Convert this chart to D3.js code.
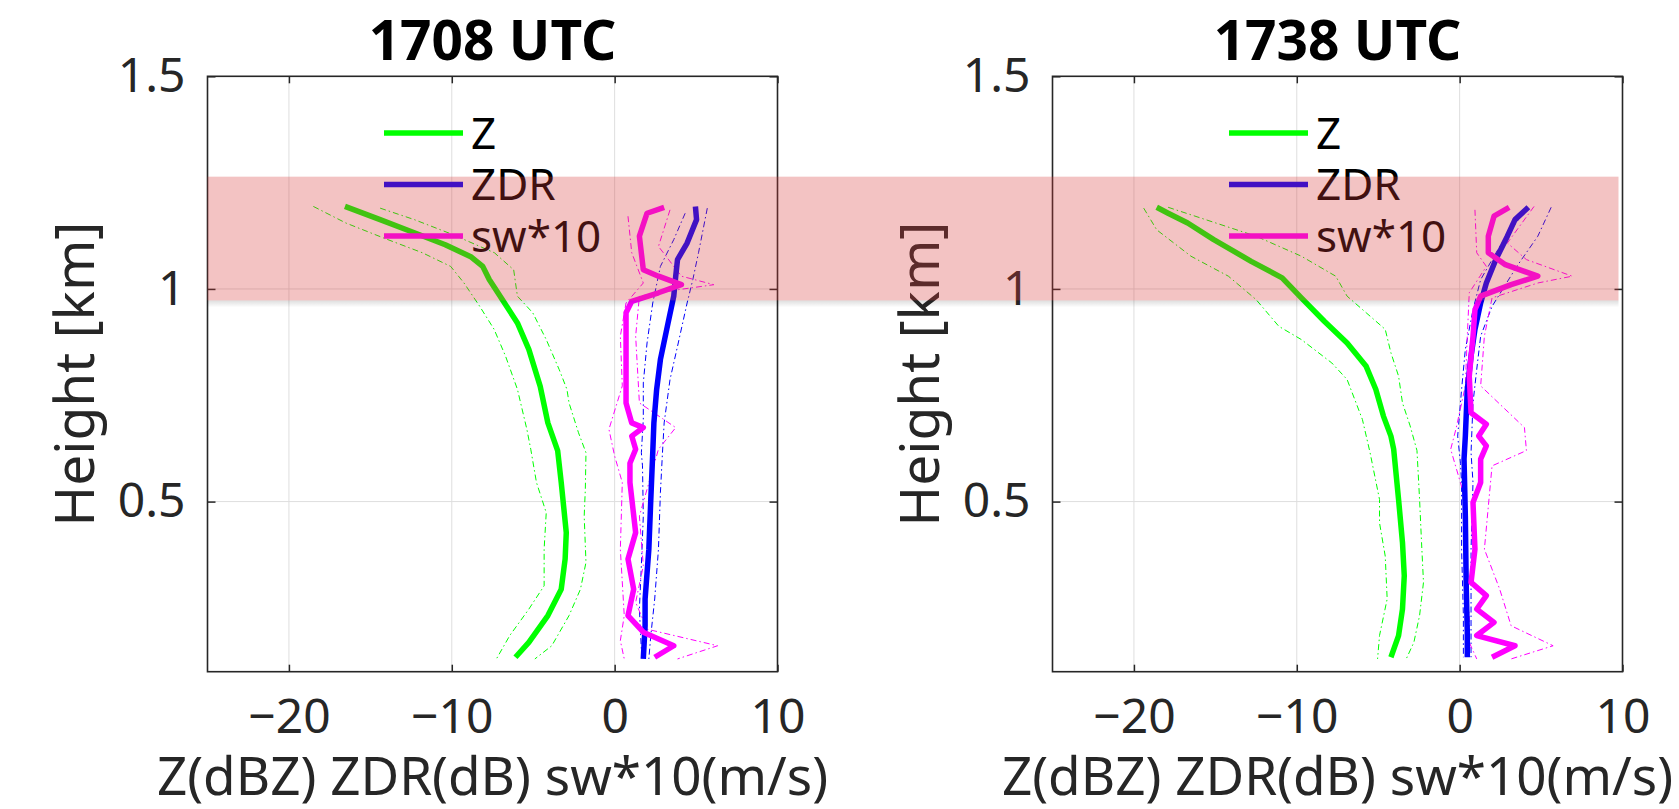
<!DOCTYPE html>
<html><head><meta charset="utf-8">
<script src="https://cdn.jsdelivr.net/npm/d3@7"></script>
<style>body{margin:0;background:#fff}svg{display:block}text{font-family:"Noto Sans",sans-serif}</style>
</head><body>
<svg id="c" width="1679" height="809"></svg>
<script>
// ---------- data: [value, height km] ----------
const titles = ["1708 UTC", "1738 UTC"];
const xTicks = [-20, -10, 0, 10];
const yTicks = [0.5, 1, 1.5];
const legendLabels = ["Z", "ZDR", "sw*10"];
const bandKm = [0.973, 1.264];

const z1708 = [[-16.56,1.194],[-14.4,1.163],[-12.5,1.135],[-10.4,1.104],[-8.8,1.075],[-8.1,1.053],[-7.7,1.022],[-6.9,0.975],[-5.97,0.92],[-5.27,0.858],[-4.57,0.771],[-4.1,0.685],[-3.5,0.62],[-3.28,0.545],[-2.97,0.427],[-3.04,0.365],[-3.28,0.294],[-4.1,0.232],[-5.27,0.169],[-6.09,0.134]];
const z1708Lo = [[-18.5,1.194],[-16.5,1.155],[-14.2,1.12],[-11.8,1.085],[-10.07,1.053],[-9.25,1.014],[-8.3,0.96],[-7.4,0.905],[-6.7,0.842],[-5.97,0.764],[-5.39,0.67],[-5.15,0.623],[-4.8,0.545],[-4.2,0.474],[-4.33,0.388],[-4.33,0.302],[-5.27,0.247],[-6.44,0.185],[-7.26,0.13]];
const z1708Hi = [[-14.4,1.19],[-12.3,1.163],[-9.95,1.128],[-7.38,1.085],[-6.2,1.045],[-5.97,0.983],[-5.03,0.944],[-4.2,0.881],[-3.4,0.81],[-2.93,0.764],[-2.8,0.732],[-2.22,0.662],[-1.76,0.615],[-1.8,0.529],[-1.87,0.466],[-1.76,0.357],[-2.1,0.294],[-2.8,0.232],[-3.86,0.161],[-4.9,0.13]];
const zdr1708 = [[4.96,1.194],[5.03,1.163],[4.45,1.108],[3.86,1.069],[3.75,1.03],[3.63,0.983],[3.28,0.92],[2.81,0.834],[2.58,0.764],[2.41,0.685],[2.34,0.615],[2.22,0.505],[2.1,0.388],[1.87,0.271],[1.87,0.208],[1.76,0.13]];
const zdr1708Lo = [[4.33,1.178],[3.63,1.116],[2.81,1.053],[2.34,0.967],[1.99,0.873],[1.76,0.779],[1.76,0.693],[1.64,0.615],[1.71,0.584],[1.76,0.466],[1.64,0.349],[1.52,0.247],[1.64,0.153],[1.76,0.13]];
const zdr1708Hi = [[5.69,1.19],[5.15,1.085],[4.8,1.022],[4.45,0.967],[3.86,0.865],[3.4,0.787],[3.04,0.685],[2.93,0.61],[2.81,0.521],[2.69,0.388],[2.46,0.271],[2.22,0.185],[2.1,0.13]];
const sw1708 = [[3.04,1.192],[1.99,1.178],[1.52,1.124],[1.76,1.045],[2.69,1.03],[4.1,1.01],[2.69,0.991],[1.05,0.971],[0.7,0.944],[0.7,0.85],[0.7,0.732],[1.05,0.685],[1.76,0.674],[1.05,0.654],[1.29,0.623],[0.94,0.59],[0.94,0.545],[1.29,0.427],[0.82,0.365],[1.17,0.294],[0.82,0.232],[1.76,0.193],[3.63,0.161],[2.46,0.134]];
const sw1708Lo = [[0.82,1.171],[1.05,1.085],[1.76,1.014],[0.7,0.967],[0.35,0.889],[0.47,0.772],[-0.35,0.67],[0,0.607],[0.47,0.545],[0.35,0.388],[0.59,0.232],[0.35,0.173],[0.59,0.13]];
const sw1708Hi = [[3.4,1.186],[2.69,1.1],[4.1,1.03],[6.09,1.01],[3.86,0.998],[1.52,0.983],[1.29,0.889],[1.52,0.732],[3.75,0.674],[2.69,0.623],[1.52,0.466],[1.76,0.349],[1.29,0.263],[1.99,0.2],[6.32,0.161],[3.86,0.13]];

const z1738 = [[-18.6,1.192],[-17.9,1.178],[-16.7,1.155],[-15.1,1.116],[-12.8,1.065],[-10.9,1.026],[-9.72,0.979],[-8.31,0.924],[-6.91,0.873],[-5.74,0.818],[-5.15,0.764],[-4.68,0.701],[-4.22,0.654],[-4.05,0.623],[-3.75,0.505],[-3.51,0.404],[-3.4,0.326],[-3.51,0.247],[-3.75,0.185],[-4.22,0.134]];
const z1738Lo = [[-19.4,1.19],[-18.6,1.139],[-16.5,1.077],[-14.2,1.03],[-12.5,0.975],[-11.1,0.912],[-9.72,0.881],[-7.85,0.826],[-6.91,0.787],[-5.97,0.693],[-5.5,0.615],[-4.92,0.505],[-4.92,0.45],[-4.57,0.372],[-4.45,0.271],[-4.92,0.185],[-5.04,0.13]];
const z1738Hi = [[-17.9,1.192],[-15.6,1.163],[-12.5,1.124],[-9.72,1.077],[-7.61,1.03],[-6.91,0.983],[-5.74,0.944],[-4.57,0.905],[-4.22,0.85],[-3.75,0.795],[-3.51,0.732],[-3.04,0.678],[-2.62,0.62],[-2.46,0.505],[-2.34,0.404],[-2.22,0.31],[-2.46,0.232],[-2.81,0.169],[-3.28,0.13]];
const zdr1738 = [[4.22,1.192],[3.4,1.163],[2.93,1.124],[2.22,1.069],[1.64,1.014],[1.29,0.967],[0.94,0.905],[0.7,0.842],[0.47,0.764],[0.35,0.654],[0.27,0.6],[0.35,0.466],[0.4,0.31],[0.47,0.193],[0.47,0.134]];
const zdr1738Lo = [[3.75,1.171],[2.46,1.1],[1.29,1.022],[0.82,0.951],[0.35,0.858],[0.12,0.764],[-0.12,0.654],[0.05,0.59],[0.12,0.545],[0.12,0.388],[0.23,0.232],[0.23,0.134]];
const zdr1738Hi = [[5.62,1.192],[4.8,1.124],[3.51,1.053],[1.99,0.959],[1.29,0.889],[1.05,0.811],[0.82,0.732],[0.7,0.615],[0.82,0.545],[0.7,0.388],[0.7,0.232],[0.7,0.134]];
const sw1738 = [[3.04,1.192],[2.11,1.171],[1.76,1.124],[1.76,1.085],[2.81,1.057],[4.8,1.03],[3.16,1.01],[1.29,0.983],[0.94,0.951],[0.82,0.889],[0.59,0.795],[0.7,0.709],[1.64,0.682],[1.17,0.654],[1.64,0.631],[1.29,0.6],[1.29,0.545],[0.82,0.498],[0.94,0.388],[0.7,0.31],[1.64,0.279],[1.05,0.247],[2.11,0.216],[1.05,0.185],[3.4,0.161],[1.99,0.134]];
const sw1738Lo = [[0.94,1.186],[1.05,1.085],[1.64,1.053],[0.59,0.991],[0.47,0.889],[0.35,0.772],[-0.23,0.67],[-0.55,0.623],[0.35,0.505],[0.35,0.31],[0.59,0.232],[0.59,0.169],[1.05,0.13]];
const sw1738Hi = [[4.57,1.194],[2.93,1.108],[4.1,1.069],[6.91,1.03],[4.8,1.014],[1.99,0.979],[1.52,0.889],[1.29,0.772],[3.98,0.674],[4.1,0.62],[1.99,0.584],[1.52,0.388],[2.46,0.294],[3.16,0.208],[5.74,0.161],[3.16,0.13]];

const panels = [
  {title: titles[0], z: [z1708, z1708Lo, z1708Hi], zdr: [zdr1708, zdr1708Lo, zdr1708Hi], sw: [sw1708, sw1708Lo, sw1708Hi]},
  {title: titles[1], z: [z1738, z1738Lo, z1738Hi], zdr: [zdr1738, zdr1738Lo, zdr1738Hi], sw: [sw1738, sw1738Lo, sw1738Hi]}
];
const colors = {z: "#00ff00", zdr: "#0000ff", sw: "#ff00ff"};

// ---------- layout ----------
const svg = d3.select("#c");
const yTop = 76.3, yBot = 671.7;
const lefts = [207.5, 1052.5], width = 570;
const y = d3.scaleLinear().domain([0.1, 1.5]).range([yBot, yTop]);

const defs = svg.append("defs");
const gr = defs.append("linearGradient").attr("id", "shg").attr("x1", 0).attr("x2", 0).attr("y1", 0).attr("y2", 1);
gr.append("stop").attr("offset", 0).attr("stop-color", "#000").attr("stop-opacity", 0.13);
gr.append("stop").attr("offset", 1).attr("stop-color", "#000").attr("stop-opacity", 0);

panels.forEach((p, i) => {
  const x = d3.scaleLinear().domain([-25, 10]).range([lefts[i], lefts[i] + width]);
  const g = svg.append("g");
  // grid
  g.selectAll(".gx").data(xTicks.filter(t => t < 10)).join("line")
    .attr("x1", d => x(d)).attr("x2", d => x(d)).attr("y1", yTop).attr("y2", yBot)
    .attr("stroke", "#dedede").attr("stroke-width", 1);
  g.selectAll(".gy").data(yTicks.filter(t => t < 1.5)).join("line")
    .attr("y1", d => y(d)).attr("y2", d => y(d)).attr("x1", x.range()[0]).attr("x2", x.range()[1])
    .attr("stroke", "#dedede").attr("stroke-width", 1);

  // axes
  const axB = g.append("g").attr("transform", `translate(0,${yBot})`)
    .call(d3.axisBottom(x).tickValues(xTicks).tickSizeInner(-7).tickSizeOuter(0).tickPadding(27));
  const axT = g.append("g").attr("transform", `translate(0,${yTop})`)
    .call(d3.axisTop(x).tickValues(xTicks).tickSizeInner(-7).tickSizeOuter(0));
  const axL = g.append("g").attr("transform", `translate(${x.range()[0]},0)`)
    .call(d3.axisLeft(y).tickValues(yTicks).tickSizeInner(-8).tickSizeOuter(0).tickPadding(22).tickFormat(d3.format("")));
  const axR = g.append("g").attr("transform", `translate(${x.range()[1]},0)`)
    .call(d3.axisRight(y).tickValues(yTicks).tickSizeInner(-8).tickSizeOuter(0));
  axT.selectAll("text").remove();
  axR.selectAll("text").remove();
  [axB, axT, axL, axR].forEach(a => {
    a.select(".domain").remove();
    a.selectAll("line").attr("stroke", "#262626").attr("stroke-width", 1.5);
    a.selectAll("text").attr("fill", "#262626").style("font-size", "48px").style("font-family", '"Noto Sans", sans-serif');
  });
  g.append("rect").attr("x", x.range()[0]).attr("y", yTop).attr("width", width).attr("height", yBot - yTop)
    .attr("fill", "none").attr("stroke", "#262626").attr("stroke-width", 1.6);

  // lines
  const line = d3.line().x(d => x(d[0])).y(d => y(d[1]));
  ["z", "zdr", "sw"].forEach(k => {
    [1, 2].forEach(j => {
      g.append("path").attr("d", line(p[k][j])).attr("fill", "none").attr("stroke", colors[k])
        .attr("stroke-width", 1).attr("stroke-dasharray", "6,3,1.5,3");
    });
  });
  ["z", "zdr", "sw"].forEach(k => {
    g.append("path").attr("d", line(p[k][0])).attr("fill", "none").attr("stroke", colors[k])
      .attr("stroke-width", 5.5).attr("stroke-linejoin", "round");
  });

  // legend
  const lx = lefts[i] + 176.5;
  const keys = ["z", "zdr", "sw"];
  legendLabels.forEach((lab, j) => {
    const ly = 133 + j * 51.5;
    g.append("line").attr("x1", lx).attr("x2", lx + 79).attr("y1", ly).attr("y2", ly)
      .attr("stroke", colors[keys[j]]).attr("stroke-width", 5.5);
    g.append("text").attr("x", lx + 87).attr("y", ly).attr("dy", "0.36em")
      .style("font-size", "44px").attr("fill", "#000").text(lab);
  });

  // title
  const cx = lefts[i] + width / 2;
  g.append("text").attr("x", cx).attr("y", 60).attr("text-anchor", "middle")
    .style("font-size", "55px").style("font-weight", "bold").attr("fill", "#000").text(p.title);
  // xlabel
  g.append("text").attr("x", cx).attr("y", 795).attr("text-anchor", "middle")
    .style("font-size", "53px").attr("fill", "#262626").text("Z(dBZ) ZDR(dB) sw*10(m/s)");
  // ylabel
  g.append("text").attr("transform", `translate(${lefts[i] - 114},${(yTop + yBot) / 2}) rotate(-90)`)
    .attr("text-anchor", "middle")
    .style("font-size", "55px").attr("fill", "#262626").text("Height [km]");
});

// highlight band spanning both panels
const xBand0 = lefts[0], xBand1 = lefts[1] + width - 4;
svg.append("rect").attr("x", xBand0).attr("y", y(bandKm[0])).attr("width", xBand1 - xBand0)
  .attr("height", 7).attr("fill", "url(#shg)");
svg.append("rect").attr("x", xBand0).attr("y", y(bandKm[1])).attr("width", xBand1 - xBand0)
  .attr("height", y(bandKm[0]) - y(bandKm[1]))
  .attr("fill", "rgb(215,55,55)").attr("fill-opacity", 0.3);
</script>
</body></html>
